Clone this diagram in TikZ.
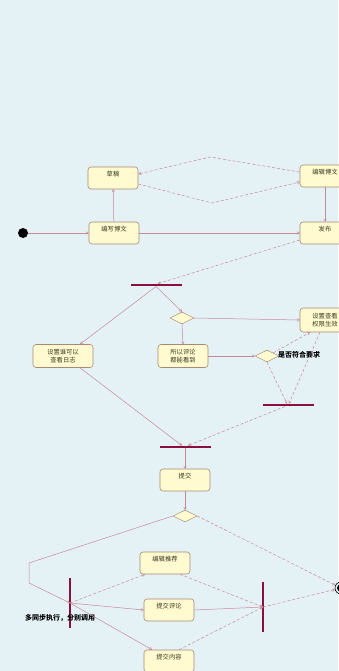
\documentclass[tikz,border=0pt]{standalone}
\usepackage{fontspec}
\newfontfamily\cjk{Noto Sans CJK SC}
\usetikzlibrary{arrows.meta,shapes.geometric,calc}
\definecolor{bgc}{HTML}{E4F2F5}
\definecolor{boxfill}{HTML}{FFFAD0}
\definecolor{boxdraw}{HTML}{A88878}
\definecolor{linec}{HTML}{C8889C}
\definecolor{barc}{HTML}{8A1040}
\definecolor{txtc}{HTML}{3A3A20}
\begin{document}
\begin{tikzpicture}[x=1pt,y=-1pt,
  act/.style={draw=boxdraw,fill=boxfill,rounded corners=3pt,minimum width=50pt,minimum height=22pt,
    font=\cjk\fontsize{6.3}{7.5}\selectfont,text=txtc,align=center,inner sep=1pt,line width=0.6pt},
  toptext/.style={text depth=8pt},
  dec/.style={diamond,draw=boxdraw,fill=boxfill,minimum width=24pt,minimum height=12pt,inner sep=0pt,aspect=2,line width=0.5pt},
  hbar/.style={fill=barc,minimum width=51pt,minimum height=2.5pt,inner sep=0pt},
  vbar/.style={fill=barc,minimum width=2.5pt,minimum height=50pt,inner sep=0pt},
  flow/.style={draw=linec,line width=0.5pt,-{To[length=3pt,width=3pt]}},
  dflow/.style={flow,dash pattern=on 3pt off 2pt},
  note/.style={font=\cjk\bfseries\fontsize{7}{8}\selectfont,inner sep=0pt}]
\fill[bgc] (0,0) rectangle (338,671);
\useasboundingbox (0,0) rectangle (338,671);
% nodes
\node[circle,fill=black,minimum size=10pt,inner sep=0pt] (start) at (23,233) {};
\node[act,toptext] (write) at (114,233) {编写博文};
\node[act,toptext] (draft) at (113,178) {草稿};
\node[act,toptext] (edit) at (325,176) {编辑博文};
\node[act,toptext] (pub) at (325,233) {发布};
\node[hbar] (f1) at (156,285) {};
\node[dec] (d1) at (182,318) {};
\node[act,minimum height=24pt] (g) at (325,320) {设置查看\\权限生效};
\node[act,minimum width=60pt,minimum height=23pt] (e) at (63,356) {设置谁可以\\查看日志};
\node[act,minimum height=23pt] (f) at (183,356) {所以评论\\都能看到};
\node[dec] (d2) at (267,356) {};
\node[note,anchor=west] (lab) at (278,355) {是否符合要求};
\node[hbar] (f2) at (288,405) {};
\node[hbar] (j3) at (185,447) {};
\node[act,toptext] (h) at (185,480) {提交};
\node[dec] (d3) at (185,516) {};
\coordinate (c1) at (29,563);
\coordinate (c2) at (29,583);
\node[vbar] (f4) at (70,603) {};
\node[act,toptext] (i) at (165,563) {编辑推荐};
\node[act,toptext] (j) at (169,610) {提交评论};
\node[act,toptext] (k) at (169,661) {提交内容};
\node[note,anchor=west] (lab2) at (25,618) {多同步执行，分别调用};
\node[vbar] (j5) at (263,607) {};
\node[circle,draw=black,line width=0.6pt,minimum size=12pt,inner sep=0pt] (end) at (341,588) {};
\fill[black] (end.center) circle (4pt);
\coordinate (m1) at (212,203);
\coordinate (m2) at (210,157);
% connectors
\draw[flow] (start) -- (write);
\draw[flow] (write) -- (draft);
\draw[flow] (write) -- (pub);
\draw[flow] (edit) -- (pub);
\draw[dflow] ([yshift=-6pt]draft.east) -- (m1) -- ([yshift=-6pt]edit.west);
\draw[dflow] ([yshift=4pt]edit.west) -- (m2) -- ([yshift=4pt]draft.east);
\draw[dflow] ([yshift=-7pt]pub.west) -- ([xshift=2pt]f1.north);
\draw[flow] (f1.south) -- ([xshift=17pt]e.north);
\draw[flow] (f1.south) -- (d1.north);
\draw[flow] (d1.east) -- (g.west);
\draw[flow] (d1.south) -- (f.north);
\draw[flow] (f.east) -- (d2.west);
\draw[dflow] (d2.north east) -- ([xshift=-15pt]g.south);
\draw[dflow] (d2.south) -- ([xshift=-1pt]f2.north);
\draw[dflow] ([xshift=-5pt]g.south) -- ([xshift=1pt]f2.north);
\draw[flow] ([xshift=17pt]e.south) -- ([xshift=-3pt]j3.north);
\draw[dflow] ([xshift=-3pt]f2.south) -- ([xshift=3pt]j3.north);
\draw[flow] (j3.south) -- (h.north);
\draw[flow] (h.south) -- (d3.north);
\draw[dflow] (d3.east) -- (end);
\draw[flow] (d3.west) -- (c1) -- (c2) -- (f4.center);
\draw[dflow] (f4.center) -- ([xshift=-20pt]i.south);
\draw[flow] (f4.center) -- (j.west);
\draw[flow] (f4.center) -- ([xshift=-17pt]k.north);
\draw[dflow] ([xshift=15pt]i.south) -- (j5.center);
\draw[flow] (j.east) -- (j5.center);
\draw[dflow] ([xshift=10pt]k.north) -- (j5.center);
\draw[dflow] (j5.center) -- (end);
\end{tikzpicture}
\end{document}
